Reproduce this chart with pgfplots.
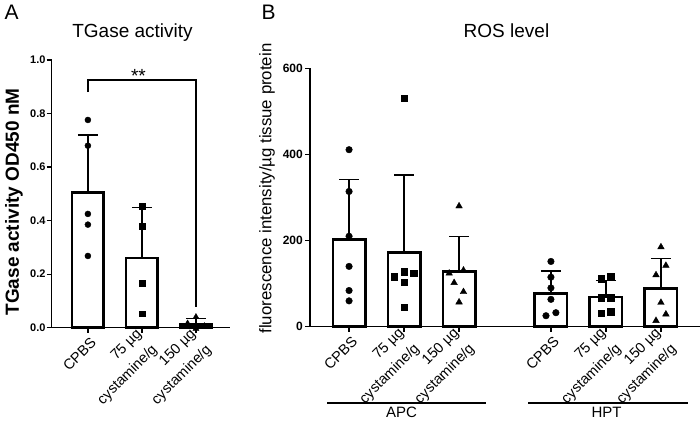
\documentclass[border=0pt]{standalone}
\usepackage{pgfplots}
\pgfplotsset{compat=1.18}
\usepackage{pgfplotstable}
\usepackage{fontspec}
\setmainfont{Liberation Sans}
\newcommand{\fs}[2]{\fontsize{#1}{#2}\selectfont}

\pgfplotstableread{
x m s
0 0.505 0.215
1 0.260 0.190
2 0.012 0.023
}\Abars
\pgfplotstableread{
x m s
0    202 139
1    172 180
2    128 82
3.67 77  52
4.67 69  39
5.67 89  70
}\Bbars

\pgfplotsset{
  gp/.style={
    scale only axis, clip=false,
    axis lines=left, axis line style={-, line width=1.5pt},
    major tick style={line width=1.3pt, black},
    major tick length=5pt, tick align=outside,
    /pgf/number format/assume math mode=true,
    x tick label style={font=\fs{14.5}{22}, xshift=8pt, yshift=-5pt, rotate=45, anchor=east, align=right},
  },
  errb/.style={draw=none, forget plot,
    error bars/.cd, y dir=plus, y explicit,
    error bar style={draw=black, line width=1.3pt},
    error mark options={draw=black, rotate=90, mark size=10pt, line width=1.3pt}},
}

\begin{document}
\begin{tikzpicture}[x=1pt,y=1pt]
\path[use as bounding box] (0,0) rectangle (700,420);

% ---------------- Panel A ----------------
\begin{axis}[gp,
  at={(51.7pt,92.3pt)}, anchor=south west,
  width=178.3pt, height=267.7pt,
  xmin=-0.67, xmax=2.63, ymin=0, ymax=1.0,
  ytick={0,0.2,0.4,0.6,0.8,1.0},
  yticklabel style={font=\bfseries\fs{11}{13}, inner sep=1pt,
    /pgf/number format/.cd, fixed, fixed zerofill, precision=1},
  xtick={0,1,2},
  xticklabels={CPBS,{75 µg\\cystamine/g},{150 µg\\cystamine/g}},
]
\addplot[ybar, bar width=31.7pt, fill=white, draw=black, line width=2.6pt] table[x=x,y=m] {\Abars};
\addplot[errb] table[x=x,y=m,y error=s] {\Abars};
\addplot[only marks, mark=*, mark size=3pt, black] coordinates {
  (0,0.776) (0,0.680) (0,0.425) (0,0.385) (0,0.268)};
\addplot[only marks, mark=square*, mark size=2.9pt, black] coordinates {
  (1,0.453) (1,0.379) (1,0.167) (1,0.052)};
\addplot[only marks, mark=triangle*, mark size=3.5pt, black] coordinates {
  (1.845,0.016) (2,0.040) (2,-0.004) (2.155,0.006)};
\addplot[black, line width=1.3pt] coordinates {(0,0.88) (0,0.925) (2,0.925) (2,0.076)};
\node[anchor=base, font=\fs{19}{21}] at (axis cs:0.935,0.915) {**};
\end{axis}

% ---------------- Panel B ----------------
\begin{axis}[gp,
  at={(310pt,93.3pt)}, anchor=south west,
  width=390pt, height=258.4pt,
  xmin=-0.71, xmax=6.38, ymin=0, ymax=600,
  ytick={0,200,400,600},
  yticklabel style={font=\bfseries\fs{12}{14}, inner sep=2pt},
  xtick={0,1,2,3.67,4.67,5.67},
  xticklabels={CPBS,{75 µg\\cystamine/g},{150 µg\\cystamine/g},CPBS,{75 µg\\cystamine/g},{150 µg\\cystamine/g}},
]
\addplot[ybar, bar width=32.4pt, fill=white, draw=black, line width=2.6pt] table[x=x,y=m] {\Bbars};
\addplot[errb] table[x=x,y=m,y error=s] {\Bbars};
\addplot[only marks, mark=*, mark size=3.3pt, black] coordinates {
  (0,411) (0,314) (0,210) (0,140) (0,84) (0,60)
  (3.67,151.5) (3.67,115) (3.67,90) (3.67,63.5) (3.58,25.5) (3.76,32.5)};
\addplot[only marks, mark=square*, mark size=3.2pt, black] coordinates {
  (1,530) (0.825,116) (1,128) (1,104) (1.175,124) (1,45)
  (4.58,111) (4.76,116) (4.58,67) (4.76,67) (4.58,31) (4.76,35)};
\addplot[only marks, mark=triangle*, mark size=3.8pt, black] coordinates {
  (2,280) (1.82,124) (2.08,131) (1.91,102) (2.08,81) (2,57)
  (5.67,185) (5.76,142) (5.58,120) (5.67,56) (5.76,29) (5.58,14)};
\end{axis}

% ---------------- Texts ----------------
\node[anchor=base west, font=\fs{21}{23}] at (1,400) {A};
\node[anchor=base west, font=\fs{21}{23}] at (258,400) {B};
\node[anchor=base, font=\fs{19}{21}] at (132.5,382.3) {TGase activity};
\node[anchor=base, font=\fs{19}{21}] at (506.5,382.3) {ROS level};
\node[rotate=90, font=\bfseries\fs{19}{21}] at (14,218) {TGase activity OD450 nM};
\node[rotate=90, font=\fs{16.8}{19}] at (267,231.5) {fluorescence intensity/µg tissue protein};
\draw[line width=1.5pt] (327,17) -- (486,17);
\draw[line width=1.5pt] (528,17) -- (688,17);
\node[anchor=base, font=\fs{15}{17}, inner sep=1pt] at (401.5,3) {APC};
\node[anchor=base, font=\fs{15}{17}, inner sep=1pt] at (606.5,3) {HPT};
\end{tikzpicture}
\end{document}
